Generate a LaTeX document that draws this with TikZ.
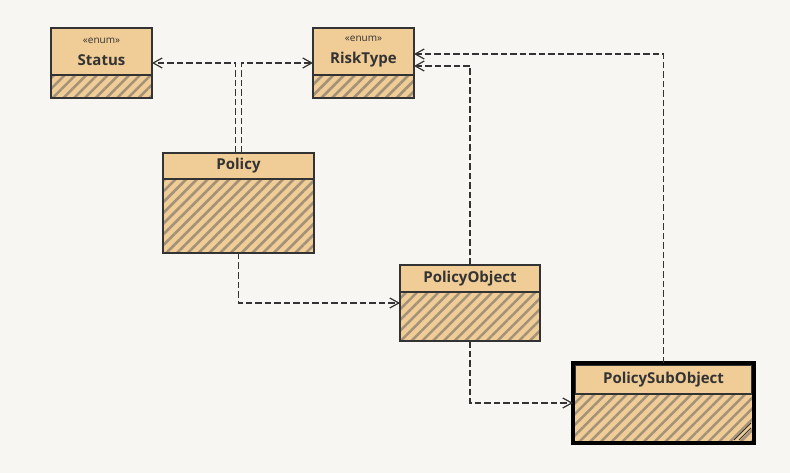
\documentclass[tikz,border=0pt]{standalone}
\usepackage{fontspec}
\setmainfont{Open Sans}
\usetikzlibrary{arrows.meta,patterns.meta,calc}
\definecolor{bg}{HTML}{F7F6F2}
\definecolor{classfill}{HTML}{F0CC96}
\definecolor{hatch}{HTML}{A39178}
\definecolor{ink}{HTML}{333333}
\newcommand{\enumtag}{{\mdseries\fontsize{10}{12}\selectfont «enum»}} % small stereotype text
\begin{document}
\begin{tikzpicture}[x=1pt,y=-1pt]
\tikzstyle{dep} = [ink, line width=1.2pt, dash pattern=on 6.5pt off 3pt, -{Straight Barb[length=9pt,width=10pt]}] % dashed dependency arrow
\tikzstyle{classbox} = [draw=ink, line width=1.4pt, rectangle, anchor=north west, inner sep=0pt, outer sep=0pt, preaction={fill=classfill}, pattern={Lines[angle=45,distance=7.6pt,line width=2.5pt]}, pattern color=hatch] % hatched class body
\tikzstyle{classhead} = [draw=ink, line width=1.4pt, fill=classfill, rectangle, anchor=north, inner sep=0pt, outer sep=0pt, align=center, text=ink, font=\bfseries\fontsize{15}{17}\selectfont] % class name compartment
\fill[bg] (0,0) rectangle (790,473); % page background
% enums at the top
\node(status)[classbox, minimum width=101, minimum height=70] at (51,28){};
\node(statushead)[classhead, minimum width=101, minimum height=47] at (status.north){\enumtag\\[5pt]Status};
\node(risktype)[classbox, minimum width=101, minimum height=70] at (313,28){};
\node(risktypehead)[classhead, minimum width=101, minimum height=47] at (risktype.north){\enumtag\\[5pt]RiskType};
% classes
\node(policy)[classbox, minimum width=151, minimum height=100] at (163,153){};
\node(policyhead)[classhead, minimum width=151, minimum height=26] at (policy.north){Policy};
\node(policyobject)[classbox, minimum width=140, minimum height=76] at (400,265){};
\node(policyobjecthead)[classhead, minimum width=140, minimum height=27] at (policyobject.north){PolicyObject};
\node(policysubobject)[classbox, draw=black, line width=4pt, minimum width=181, minimum height=80] at (573,363){};
\node(policysubobjecthead)[classhead, line width=1.4pt, minimum width=177, minimum height=29] at ($(policysubobject.north)+(0,2)$){PolicySubObject};
\draw[black, line width=4pt] (policysubobject.north west) rectangle (policysubobject.south east); % selected outline
\draw[ink, line width=0.8pt] ($(policysubobject.south east)+(-20,-3)$)--($(policysubobject.south east)+(-3,-20)$); % resize grip
\draw[ink, line width=0.8pt] ($(policysubobject.south east)+(-15,-3)$)--($(policysubobject.south east)+(-3,-15)$);
% dependencies
\draw[dep]($(policy.north)+(-3,0)$)|-(status.east);
\draw[dep]($(policy.north)+(3,0)$)|-(risktype.west);
\draw[dep](policy.south)|-(policyobject.west);
\draw[dep](policyobject.north)|-($(risktype.east)+(0,3)$);
\draw[dep](policysubobject.north)|-($(risktype.east)+(0,-9)$);
\draw[dep](policyobject.south)|-(policysubobject.west);
\end{tikzpicture}
\end{document}
